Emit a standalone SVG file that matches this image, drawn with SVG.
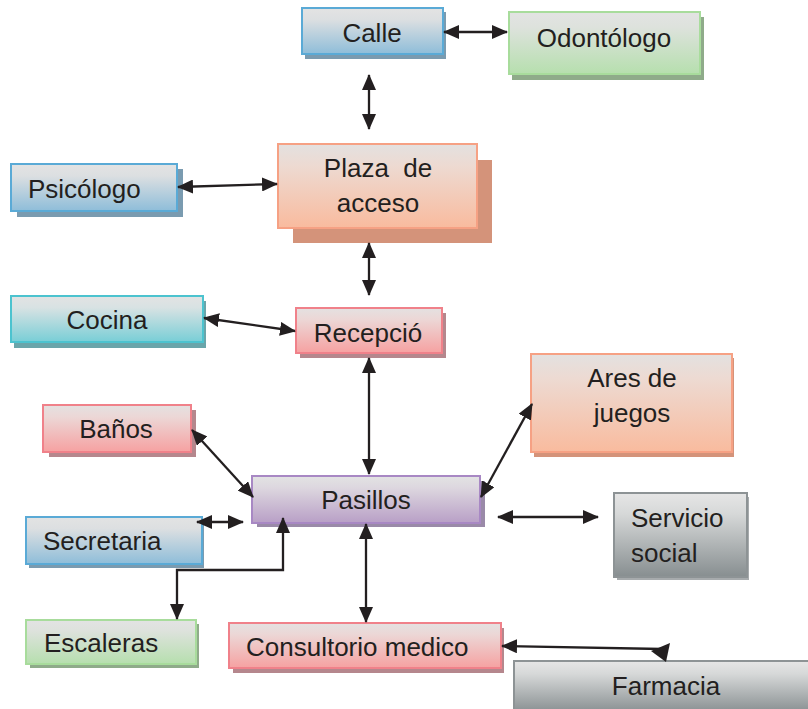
<svg xmlns="http://www.w3.org/2000/svg" width="808" height="709" viewBox="0 0 808 709">
<style>
text{font-family:"Liberation Sans",Arial,sans-serif;font-size:26px;fill:#231f20}
.c{text-anchor:middle}
.b{stroke-width:2}
.con{fill:none;stroke:#231f20;stroke-width:2.3}
</style>
<defs>
<marker id="ah" viewBox="0 0 16 14" refX="15" refY="7" markerWidth="16" markerHeight="14" markerUnits="userSpaceOnUse" orient="auto-start-reverse">
<path d="M0,0 L16,7 L0,14 z" fill="#231f20"/>
</marker>
<linearGradient id="gBlue" x1="0" y1="0" x2="0" y2="1"><stop offset="0" stop-color="#e3e3e3"/><stop offset="0.25" stop-color="#dcdfe1"/><stop offset="1" stop-color="#8ebdd9"/></linearGradient>
<linearGradient id="gGreen" x1="0" y1="0" x2="0" y2="1"><stop offset="0" stop-color="#e3e3e3"/><stop offset="0.25" stop-color="#dde2dc"/><stop offset="1" stop-color="#b6dfae"/></linearGradient>
<linearGradient id="gSalmon" x1="0" y1="0" x2="0" y2="1"><stop offset="0" stop-color="#e3e1e0"/><stop offset="0.25" stop-color="#eddad2"/><stop offset="1" stop-color="#f9bb9e"/></linearGradient>
<linearGradient id="gCyan" x1="0" y1="0" x2="0" y2="1"><stop offset="0" stop-color="#e3e3e3"/><stop offset="0.25" stop-color="#d8e2e3"/><stop offset="1" stop-color="#78ced6"/></linearGradient>
<linearGradient id="gPink" x1="0" y1="0" x2="0" y2="1"><stop offset="0" stop-color="#e4e1e1"/><stop offset="0.25" stop-color="#ecd7d6"/><stop offset="1" stop-color="#f6a1a1"/></linearGradient>
<linearGradient id="gPurple" x1="0" y1="0" x2="0" y2="1"><stop offset="0" stop-color="#e3e3e3"/><stop offset="0.25" stop-color="#ddd7df"/><stop offset="1" stop-color="#b89fc6"/></linearGradient>
<linearGradient id="gGray" x1="0" y1="0" x2="0" y2="1"><stop offset="0" stop-color="#e6e6e6"/><stop offset="0.25" stop-color="#d6d8d8"/><stop offset="1" stop-color="#878e90"/></linearGradient>
</defs>
<rect width="808" height="709" fill="#ffffff"/>

<g id="calle">
<rect x="305" y="12" width="141" height="47" fill="#7a9bb0"/>
<rect x="302" y="8" width="141" height="46" fill="url(#gBlue)" stroke="#5aaad6" class="b"/>
<text x="372" y="42" class="c">Calle</text>
</g>
<g id="odontologo">
<rect x="512" y="17" width="192" height="63" fill="#8fab8a"/>
<rect x="509" y="12" width="191" height="62" fill="url(#gGreen)" stroke="#a8dc9c" class="b"/>
<text x="604" y="47" class="c">Odontólogo</text>
</g>
<g id="psicologo">
<rect x="17" y="169" width="166" height="48" fill="#7a9bb0"/>
<rect x="11" y="164" width="166" height="47" fill="url(#gBlue)" stroke="#5aaad6" class="b"/>
<text x="28" y="198">Psicólogo</text>
</g>
<g id="plaza">
<rect x="293" y="160" width="199" height="83" fill="#d4937a"/>
<rect x="278" y="144" width="199" height="84" fill="url(#gSalmon)" stroke="#f6a184" class="b"/>
<text x="378" y="177" class="c" xml:space="preserve">Plaza  de</text>
<text x="378" y="212" class="c">acceso</text>
</g>
<g id="cocina">
<rect x="14" y="301" width="192" height="47" fill="#6aa5aa"/>
<rect x="11" y="296" width="192" height="46" fill="url(#gCyan)" stroke="#4cc3cf" class="b"/>
<text x="107" y="329" class="c">Cocina</text>
</g>
<g id="recepcio">
<rect x="300" y="313" width="146" height="45" fill="#b5878d"/>
<rect x="296" y="308" width="146" height="45" fill="url(#gPink)" stroke="#f0818a" class="b"/>
<text x="368" y="342" class="c">Recepció</text>
</g>
<g id="banos">
<rect x="49" y="410" width="147" height="47" fill="#b5878d"/>
<rect x="43" y="405" width="148" height="47" fill="url(#gPink)" stroke="#f0818a" class="b"/>
<text x="116" y="438" class="c">Baños</text>
</g>
<g id="pasillos">
<rect x="257" y="481" width="228" height="46" fill="#9a8aa8"/>
<rect x="252" y="476" width="228" height="47" fill="url(#gPurple)" stroke="#a888c4" class="b"/>
<text x="366" y="509" class="c">Pasillos</text>
</g>
<g id="secretaria">
<rect x="29" y="522" width="175" height="46" fill="#7a9bb0"/>
<rect x="26" y="517" width="176" height="47" fill="url(#gBlue)" stroke="#5aaad6" class="b"/>
<text x="43" y="550">Secretaria</text>
</g>
<g id="ares">
<rect x="534" y="358" width="200" height="99" fill="#d4937a"/>
<rect x="531" y="354" width="201" height="98" fill="url(#gSalmon)" stroke="#f6a184" class="b"/>
<text x="632" y="387" class="c">Ares de</text>
<text x="632" y="422" class="c">juegos</text>
</g>
<g id="servicio">
<rect x="617" y="497" width="132" height="83" fill="#a7abad"/>
<rect x="614" y="493" width="133" height="84" fill="url(#gGray)" stroke="#8d9395" class="b"/>
<text x="631" y="527">Servicio</text>
<text x="631" y="562">social</text>
</g>
<g id="escaleras">
<rect x="30" y="624" width="169" height="44" fill="#8fab8a"/>
<rect x="26" y="620" width="170" height="44" fill="url(#gGreen)" stroke="#a8dc9c" class="b"/>
<text x="44" y="652">Escaleras</text>
</g>
<g id="consultorio">
<rect x="233" y="628" width="271" height="45" fill="#b5878d"/>
<rect x="229" y="623" width="272" height="45" fill="url(#gPink)" stroke="#f0818a" class="b"/>
<text x="246" y="656">Consultorio medico</text>
</g>
<g id="farmacia">
<rect x="514" y="661" width="300" height="52" fill="url(#gGray)" stroke="#8d9395" class="b"/>
<text x="666" y="695" class="c">Farmacia</text>
</g>

<g id="connectors">
<path class="con" d="M444,32 L507,32" marker-start="url(#ah)" marker-end="url(#ah)"/>
<path class="con" d="M369,75 L369,129" marker-start="url(#ah)" marker-end="url(#ah)"/>
<path class="con" d="M178,187 L277,184" marker-start="url(#ah)" marker-end="url(#ah)"/>
<path class="con" d="M369,243 L369,295" marker-start="url(#ah)" marker-end="url(#ah)"/>
<path class="con" d="M204,318 L295,331" marker-start="url(#ah)" marker-end="url(#ah)"/>
<path class="con" d="M369,358 L369,474" marker-start="url(#ah)" marker-end="url(#ah)"/>
<path class="con" d="M192,430 L253,497" marker-start="url(#ah)" marker-end="url(#ah)"/>
<path class="con" d="M197,522 L243,522" marker-start="url(#ah)" marker-end="url(#ah)"/>
<path class="con" d="M177,619 L177,570 L283,570 L283,518" marker-start="url(#ah)" marker-end="url(#ah)"/>
<path class="con" d="M481,497 L532,404" marker-start="url(#ah)" marker-end="url(#ah)"/>
<path class="con" d="M498,517 L598,517" marker-start="url(#ah)" marker-end="url(#ah)"/>
<path class="con" d="M366,524 L366,622" marker-start="url(#ah)" marker-end="url(#ah)"/>
<path class="con" d="M502,646 L662,649" marker-start="url(#ah)"/>
<path d="M651,651 L670,643 L666,662 z" fill="#231f20"/>
</g>
</svg>
